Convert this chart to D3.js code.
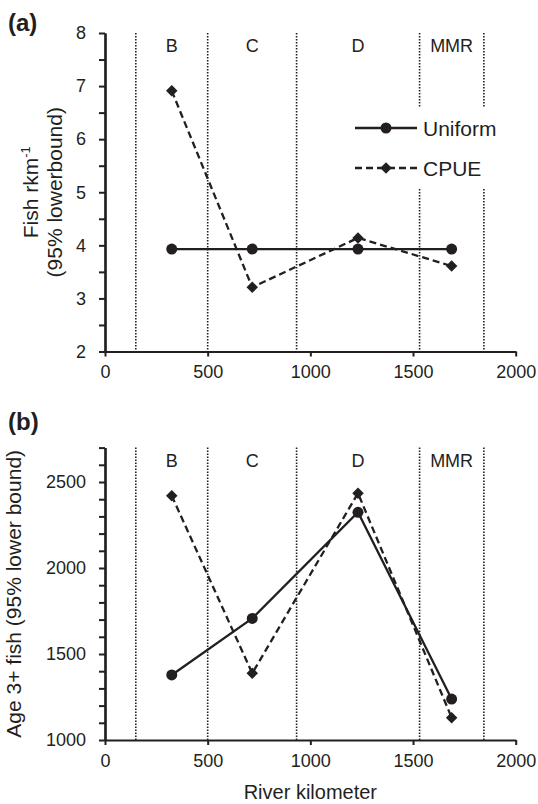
<!DOCTYPE html>
<html>
<head>
<meta charset="utf-8">
<script src="https://cdn.jsdelivr.net/npm/d3@7"></script>
<style>
  body { margin: 0; background: #fff; }
  svg { font-family: Arial, "Liberation Sans", sans-serif; }
</style>
</head>
<body>
<div id="chart"></div>
<script>
// Reach midpoints (river km) and reach boundaries
const reaches = ["B", "C", "D", "MMR"];
const reachKm = [325, 717, 1232, 1688];
const boundaries = [150, 500, 933, 1532, 1845];
const xTicks = [0, 500, 1000, 1500, 2000];

// Panel (a): fish per rkm (95% lowerbound)
const uniformA = [3.93, 3.93, 3.93, 3.93];
const cpueA = [6.91, 3.21, 4.14, 3.61];
const yTicksA = [2, 3, 4, 5, 6, 7, 8];

// Panel (b): age 3+ fish (95% lower bound)
const uniformB = [1378, 1707, 2324, 1238];
const cpueB = [2420, 1388, 2435, 1130];
const yTicksB = [1000, 1500, 2000, 2500];

const ink = "#231f20";

const svg = d3.select("#chart")
  .append("svg")
    .attr("width", 538)
    .attr("height", 804);

const x = d3.scaleLinear().domain([0, 2000]).range([105, 515.7]);

// diamond = square turned 45 degrees
const circle = d3.symbol().type(d3.symbolCircle).size(95)();
const diamond = d3.symbol().type(d3.symbolSquare).size(66)();

function drawPanel(opts) {
    const y = d3.scaleLinear().domain(opts.yDomain).range(opts.yRange);
    const g = svg.append("g");
    const top = opts.yRange[1], bottom = opts.yRange[0];

    // Reach boundaries (dotted)
    g.selectAll(".bound")
      .data(boundaries)
      .enter().append("line")
        .attr("x1", d => x(d)).attr("x2", d => x(d))
        .attr("y1", top).attr("y2", bottom)
        .attr("stroke", ink)
        .attr("stroke-width", 1.6)
        .attr("stroke-dasharray", "1.5,1.5");

    // Reach labels
    g.selectAll(".reach")
      .data(reaches)
      .enter().append("text")
        .attr("x", (d, i) => x(reachKm[i]))
        .attr("y", top + 19)
        .attr("text-anchor", "middle")
        .style("font-size", "18px")
        .attr("fill", ink)
        .text(d => d);

    // Legend box (white, covers dotted lines)
    if (opts.legend) {
        const lg = g.append("g");
        lg.append("rect")
          .attr("x", 346).attr("y", 108).attr("width", 162).attr("height", 80)
          .attr("fill", "#fff");
        const items = [
            { name: "Uniform", dash: null, mark: circle, rot: 0, yy: 128 },
            { name: "CPUE", dash: "7,4", mark: diamond, rot: 45, yy: 168 }
        ];
        items.forEach(it => {
            lg.append("line")
              .attr("x1", 355).attr("x2", 417)
              .attr("y1", it.yy).attr("y2", it.yy)
              .attr("stroke", ink).attr("stroke-width", 2.3)
              .attr("stroke-dasharray", it.dash);
            lg.append("path")
              .attr("transform", `translate(386,${it.yy}) rotate(${it.rot})`)
              .attr("d", it.mark)
              .attr("fill", ink);
            lg.append("text")
              .attr("x", 423).attr("y", it.yy + 7.5)
              .style("font-size", "21px")
              .attr("fill", ink)
              .text(it.name);
        });
    }

    // Series
    const line = d3.line().x((d, i) => x(reachKm[i])).y(d => y(d));
    g.append("path")
      .datum(opts.uniform)
      .attr("fill", "none").attr("stroke", ink).attr("stroke-width", 2.3)
      .attr("d", line);
    g.append("path")
      .datum(opts.cpue)
      .attr("fill", "none").attr("stroke", ink).attr("stroke-width", 2.3)
      .attr("stroke-dasharray", "7,4")
      .attr("d", line);
    g.selectAll(".dotU")
      .data(opts.uniform)
      .enter().append("path")
        .attr("transform", (d, i) => `translate(${x(reachKm[i])},${y(d)})`)
        .attr("d", circle)
        .attr("fill", ink);
    g.selectAll(".dotC")
      .data(opts.cpue)
      .enter().append("path")
        .attr("transform", (d, i) => `translate(${x(reachKm[i])},${y(d)}) rotate(45)`)
        .attr("d", diamond)
        .attr("fill", ink);

    // X axis
    const xAxis = g.append("g")
      .attr("transform", `translate(0,${bottom})`)
      .call(d3.axisBottom(x).tickValues(xTicks).tickSize(5).tickSizeOuter(0)
        .tickPadding(9).tickFormat(d => d));
    // Y axis, minor ticks then major ticks
    const yAxis = g.append("g")
      .attr("transform", `translate(${x(0)},0)`)
      .call(d3.axisLeft(y).tickValues(opts.minor).tickSize(6).tickSizeOuter(0).tickFormat(""));
    const yAxisMajor = g.append("g")
      .attr("transform", `translate(${x(0)},0)`)
      .call(d3.axisLeft(y).tickValues(opts.yTicks).tickSize(6).tickSizeOuter(0)
        .tickPadding(13).tickFormat(d => d));

    [xAxis, yAxis, yAxisMajor].forEach(a => {
        a.select(".domain").attr("stroke", ink).attr("stroke-width", 2.2);
        a.selectAll(".tick line").attr("stroke", ink).attr("stroke-width", 2);
        a.selectAll(".tick text").attr("fill", ink).style("font-size", "18px")
          .style("font-family", "Arial, 'Liberation Sans', sans-serif");
    });

    // Panel label
    g.append("text")
      .attr("x", 8).attr("y", opts.labelY)
      .style("font-size", "24px").style("font-weight", "bold")
      .attr("fill", ink)
      .text(opts.label);

    // Y title
    const mid = (top + bottom) / 2;
    opts.title.forEach((t, i) => {
        const txt = g.append("text")
          .attr("transform", `translate(${opts.titleX[i]},${mid}) rotate(-90)`)
          .attr("text-anchor", "middle")
          .style("font-size", "21px")
          .attr("fill", ink);
        if (t.sup) {
            txt.append("tspan").text(t.text);
            txt.append("tspan").attr("dy", -8).style("font-size", "13px").text(t.sup);
        } else {
            txt.text(t.text);
        }
    });
}

drawPanel({
    yDomain: [2, 8], yRange: [351.5, 33],
    yTicks: yTicksA, minor: d3.range(2.5, 8, 1),
    uniform: uniformA, cpue: cpueA, legend: true,
    label: "(a)", labelY: 31,
    title: [{ text: "Fish rkm", sup: "-1" }, { text: "(95% lowerbound)" }],
    titleX: [38, 62]
});

drawPanel({
    yDomain: [1000, 2700], yRange: [740, 447.6],
    yTicks: yTicksB, minor: d3.range(1100, 2701, 100).filter(v => v % 500 !== 0),
    uniform: uniformB, cpue: cpueB, legend: false,
    label: "(b)", labelY: 430,
    title: [{ text: "Age 3+ fish (95% lower bound)" }],
    titleX: [21]
});

// X title
svg.append("text")
  .attr("x", x(1000)).attr("y", 799)
  .attr("text-anchor", "middle")
  .style("font-size", "20px")
  .attr("fill", ink)
  .text("River kilometer");
</script>
</body>
</html>
